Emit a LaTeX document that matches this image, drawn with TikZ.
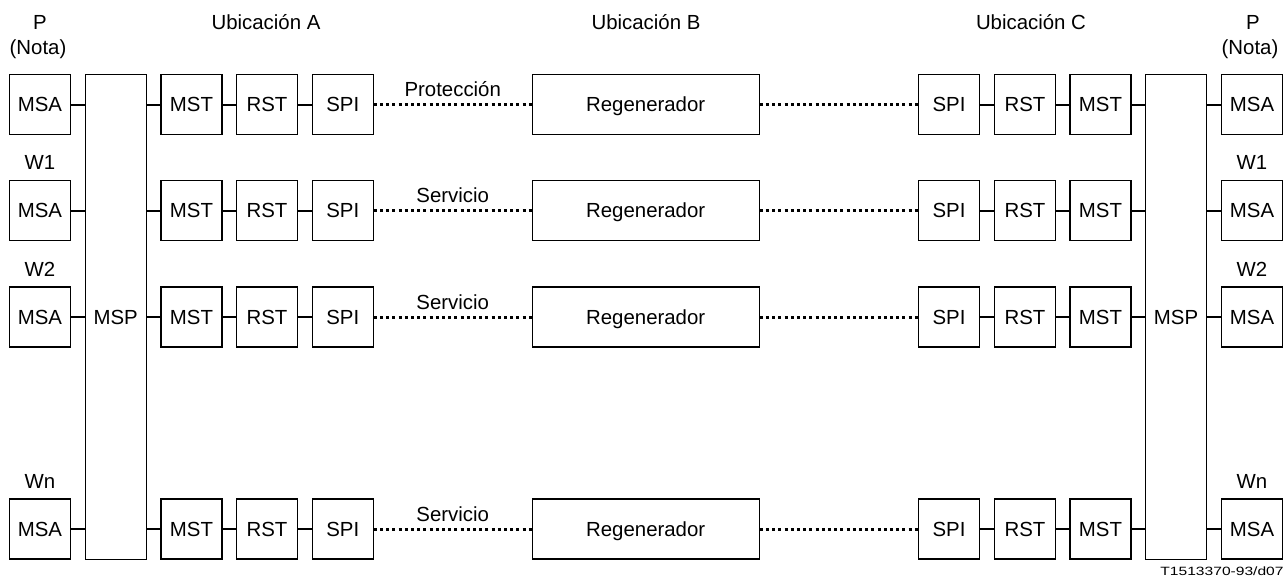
\documentclass[tikz,border=0pt]{standalone}
\usepackage{fontspec}
\setmainfont{Liberation Sans}
\usetikzlibrary{calc}
\tikzset{
  blk/.style={draw, line width=0.55pt, minimum width=30.5pt, minimum height=30pt, inner sep=0pt,
    text height=7.3pt, text depth=0pt, font=\fontsize{10.2}{12}\selectfont},
  lnk/.style={line width=1pt},
  opt/.style={line width=1.5pt, dash pattern=on 1.5pt off 1.6pt},
  lbl/.style={inner sep=0pt, font=\fontsize{10.2}{12}\selectfont}
}

\begin{document}
\begin{tikzpicture}[x=0.5pt, y=-0.5pt]
\useasboundingbox (0,0) rectangle (1286,580);
% headings
\node[lbl, anchor=base] (pL) at (40,29.3) {P};
\node[lbl, anchor=base] (notaL) at (38,54) {(Nota)};
\node[lbl, anchor=base] (pR) at (1253,29.3) {P};
\node[lbl, anchor=base] (notaR) at (1250,54) {(Nota)};
\node[lbl, anchor=base] (ubA) at (266,29.3) {Ubicación A};
\node[lbl, anchor=base] (ubB) at (646,29.3) {Ubicación B};
\node[lbl, anchor=base] (ubC) at (1031,29.3) {Ubicación C};
% protection switches
\node[blk, minimum height=242.3pt] (mspL) at (115.7,317) {MSP};
\node[blk, minimum height=242.3pt] (mspR) at (1176,317) {MSP};
\foreach \r/\y/\txt in {1/104.5/Protección, 2/210.5/Servicio, 3/317/Servicio, 4/529/Servicio}{
  \node[blk] (msaL\r) at (40,\y) {MSA};
  \node[blk] (mstL\r) at (191.5,\y) {MST};
  \node[blk] (rstL\r) at (267,\y) {RST};
  \node[blk] (spiL\r) at (342.8,\y) {SPI};
  \node[blk, minimum width=113.5pt] (reg\r) at (645.7,\y) {Regenerador};
  \node[blk] (spiR\r) at (949,\y) {SPI};
  \node[blk] (rstR\r) at (1025,\y) {RST};
  \node[blk] (mstR\r) at (1100.5,\y) {MST};
  \node[blk] (msaR\r) at (1252,\y) {MSA};
  \draw[lnk] (msaL\r) -- (msaL\r -| mspL.west);
  \draw[lnk] (mspL.east |- mstL\r) -- (mstL\r);
  \draw[lnk] (mstL\r) -- (rstL\r);
  \draw[lnk] (rstL\r) -- (spiL\r);
  \draw[opt] (spiL\r) -- node[lbl, anchor=base, yshift=4pt] (txt\r) {\txt} (reg\r);
  \draw[opt] (reg\r) -- (spiR\r);
  \draw[lnk] (spiR\r) -- (rstR\r);
  \draw[lnk] (rstR\r) -- (mstR\r);
  \draw[lnk] (mstR\r) -- (mstR\r -| mspR.west);
  \draw[lnk] (mspR.east |- msaR\r) -- (msaR\r);
}
\foreach \r/\w in {2/W1, 3/W2, 4/Wn}{
  \node[lbl, above=5pt] (wL\r) at (msaL\r.north) {\w};
  \node[lbl, above=5pt] (wR\r) at (msaR\r.north) {\w};
}
\node[lbl, anchor=base east, font=\fontsize{6}{7}\selectfont] (fig) at (1284,575) {\scalebox{1.3}[1]{T1513370-93/d07}};
\end{tikzpicture}
\end{document}
